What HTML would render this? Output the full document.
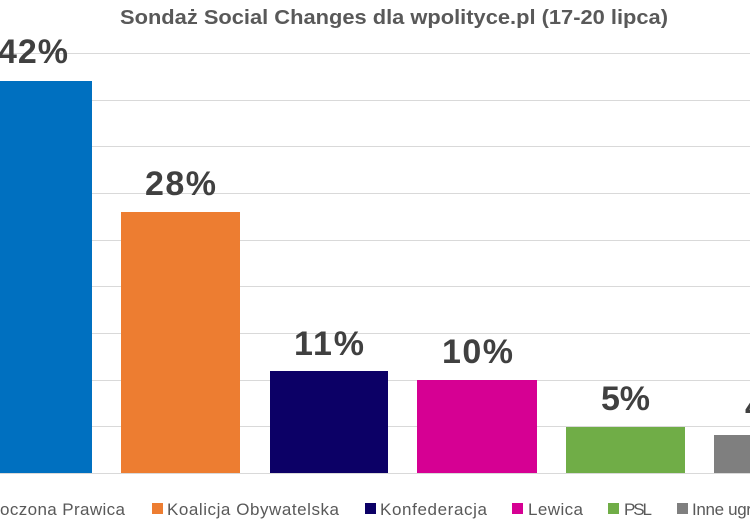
<!DOCTYPE html>
<html><head><style>body{margin:0;background:#fff}svg{display:block}</style></head>
<body>
<svg width="750" height="525" xmlns="http://www.w3.org/2000/svg" font-family="Liberation Sans, sans-serif">
<rect width="750" height="525" fill="#fff"/>
<g stroke="#d9d9d9" stroke-width="1">
<line x1="0" x2="750" y1="53.5" y2="53.5"/><line x1="0" x2="750" y1="100.5" y2="100.5"/>
<line x1="0" x2="750" y1="146.5" y2="146.5"/><line x1="0" x2="750" y1="193.5" y2="193.5"/>
<line x1="0" x2="750" y1="240.5" y2="240.5"/><line x1="0" x2="750" y1="286.5" y2="286.5"/>
<line x1="0" x2="750" y1="333.5" y2="333.5"/><line x1="0" x2="750" y1="380.5" y2="380.5"/>
<line x1="0" x2="750" y1="426.5" y2="426.5"/><line x1="0" x2="750" y1="473.5" y2="473.5"/>
</g>
<rect x="0" y="81" width="92" height="392" fill="#0070c0"/>
<rect x="121" y="212" width="119" height="261" fill="#ed7d31"/>
<rect x="270" y="371" width="118" height="102" fill="#0c0066"/>
<rect x="417" y="380" width="120" height="93" fill="#d60093"/>
<rect x="566" y="427" width="119" height="46" fill="#70ad47"/>
<rect x="714" y="435" width="40" height="38" fill="#7f7f7f"/>
<text x="120" y="24" font-size="20" font-weight="bold" fill="#595959" textLength="548" lengthAdjust="spacingAndGlyphs">Sondaż Social Changes dla wpolityce.pl (17-20 lipca)</text>
<g font-size="34" font-weight="bold" fill="#404040" lengthAdjust="spacingAndGlyphs">
<text x="-2" y="63" textLength="70">42%</text>
<text x="145" y="195" textLength="71">28%</text>
<text x="294" y="355" textLength="70">11%</text>
<text x="442" y="363" textLength="71">10%</text>
<text x="601" y="410" textLength="49">5%</text>
<text x="745" y="418" textLength="49">4%</text>
</g>
<g font-size="17" fill="#595959" lengthAdjust="spacingAndGlyphs">
<text x="0" y="515" textLength="125">oczona Prawica</text>
<rect x="152" y="503" width="11" height="11" fill="#ed7d31"/>
<text x="167" y="515" textLength="172">Koalicja Obywatelska</text>
<rect x="365" y="503" width="11" height="11" fill="#0c0066"/>
<text x="380" y="515" textLength="107">Konfederacja</text>
<rect x="512" y="503" width="11" height="11" fill="#d60093"/>
<text x="528" y="515" textLength="55">Lewica</text>
<rect x="608" y="503" width="11" height="11" fill="#70ad47"/>
<text x="624" y="515" textLength="28">PSL</text>
<rect x="677" y="503" width="11" height="11" fill="#7f7f7f"/>
<text x="692" y="515" textLength="130">Inne ugrupowania</text>
</g>
</svg>
</body></html>
